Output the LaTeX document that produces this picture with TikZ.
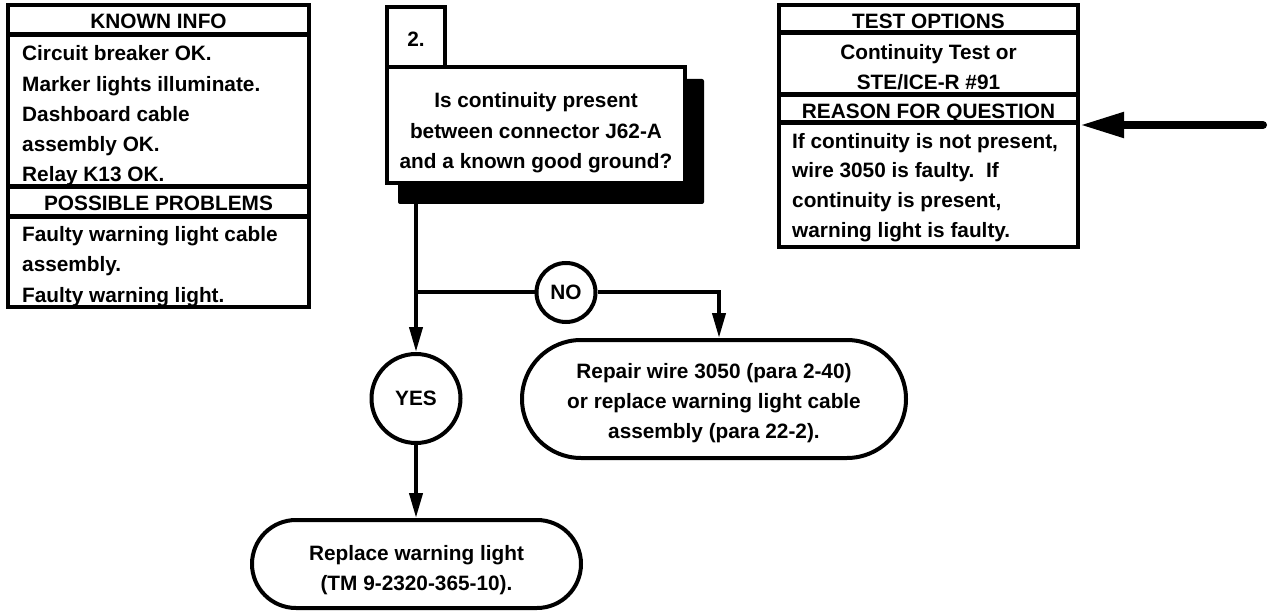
\documentclass[tikz,border=0pt]{standalone}
\usepackage{fontspec}
\setmainfont{Liberation Sans}
\usetikzlibrary{arrows.meta}
\begin{document}
\begin{tikzpicture}[x=1pt,y=-1pt,
  txt/.style={inner sep=0pt,font=\fontsize{20.8}{30}\selectfont\bfseries},
  box/.style={draw,line width=4pt,fill=white,inner sep=0pt},
  sep/.style={line width=5pt},
  flow/.style={line width=4pt,-{Triangle[length=25pt,width=13pt]}},
  plain/.style={line width=4pt},
  circ/.style={circle,draw,line width=4pt,fill=white,inner sep=0pt,font=\fontsize{20.8}{30}\selectfont\bfseries},
  term/.style={draw,line width=4pt,fill=white,inner sep=0pt}]
\useasboundingbox (0,0) rectangle (1274,612);

% KNOWN INFO box
\node[box,minimum width=301pt,minimum height=302pt] (kbox) at (158.5,156) {};
\draw[sep] (kbox.west |- 0,35) -- (kbox.east |- 0,35);
\draw[sep] (kbox.west |- 0,187) -- (kbox.east |- 0,187);
\draw[sep] (kbox.west |- 0,217) -- (kbox.east |- 0,217);
\node[txt,anchor=base] (k0) at (158.5,29) {KNOWN INFO};
\node[txt,anchor=base west] (k1) at (22,61) {Circuit breaker OK.};
\node[txt,anchor=base west] (k2) at (22,92) {Marker lights illuminate.};
\node[txt,anchor=base west] (k3) at (22,122) {Dashboard cable};
\node[txt,anchor=base west] (k4) at (22,152) {assembly OK.};
\node[txt,anchor=base west] (k5) at (22,182) {Relay K13 OK.};
\node[txt,anchor=base] (p0) at (158.5,211) {POSSIBLE PROBLEMS};
\node[txt,anchor=base west] (p1) at (22,242) {Faulty warning light cable};
\node[txt,anchor=base west] (p2) at (22,272) {assembly.};
\node[txt,anchor=base west] (p3) at (22,302) {Faulty warning light.};

% TEST OPTIONS box
\node[box,minimum width=299pt,minimum height=242pt] (tbox) at (928.5,126) {};
\draw[sep] (tbox.west |- 0,33) -- (tbox.east |- 0,33);
\draw[sep] (tbox.west |- 0,95) -- (tbox.east |- 0,95);
\draw[sep] (tbox.west |- 0,123) -- (tbox.east |- 0,123);
\node[txt,anchor=base] (t0) at (928.5,29) {TEST OPTIONS};
\node[txt,anchor=base] (t1) at (928.5,60) {Continuity Test or};
\node[txt,anchor=base] (t2) at (928.5,90) {STE/ICE-R \#91};
\node[txt,anchor=base] (r0) at (928.5,119) {REASON FOR QUESTION};
\node[txt,anchor=base west] (r1) at (792,148.5) {If continuity is not present,};
\node[txt,anchor=base west] (r2) at (792,178) {wire 3050 is faulty.\ \ If};
\node[txt,anchor=base west] (r3) at (792,208) {continuity is present,};
\node[txt,anchor=base west] (r4) at (792,238) {warning light is faulty.};

% pointer arrow
\coordinate (pstart) at (1263,125);
\draw[line width=8pt,line cap=round,-{Triangle[length=44pt,width=24pt]}] (pstart) -- (tbox.east |- pstart);

% question box
\node[box,minimum width=58pt,minimum height=60pt] (num) at (416,37) {};
\node[txt,anchor=base] (numt) at (416,47) {2.};
\fill[rounded corners=2pt] (398,79) rectangle (704,204);
\node[box,minimum width=298pt,minimum height=116pt] (q) at (536,125) {};
\node[txt,anchor=base] (q1) at (536,108) {Is continuity present};
\node[txt,anchor=base] (q2) at (536,139) {between connector J62-A};
\node[txt,anchor=base] (q3) at (536,169) {and a known good ground?};

% answers
\node[circ,minimum size=89pt] (yes) at (416,398.5) {YES};
\node[circ,minimum size=59pt] (no) at (566,292.5) {NO};
\node[term,minimum width=384pt,minimum height=118pt,rounded corners=59pt] (rep) at (714,399) {};
\node[txt,anchor=base] (rep1) at (714,378) {Repair wire 3050 (para 2-40)};
\node[txt,anchor=base] (rep2) at (714,408) {or replace warning light cable};
\node[txt,anchor=base] (rep3) at (714,438) {assembly (para 22-2).};
\node[term,minimum width=329pt,minimum height=88pt,rounded corners=44pt] (rpl) at (416.5,564) {};
\node[txt,anchor=base] (rpl1) at (416.5,560) {Replace warning light};
\node[txt,anchor=base] (rpl2) at (416.5,590) {(TM 9-2320-365-10).};

% connectors
\coordinate (br) at (yes |- no);
\coordinate (qout) at (416,204);
\draw[flow] (qout) -- (yes.north);
\draw[plain] (br) -- (no.west);
\draw[flow] (no.east) -| ([xshift=5pt]rep.north);
\draw[flow] (yes.south) -- (rpl.north -| yes);
\end{tikzpicture}
\end{document}
